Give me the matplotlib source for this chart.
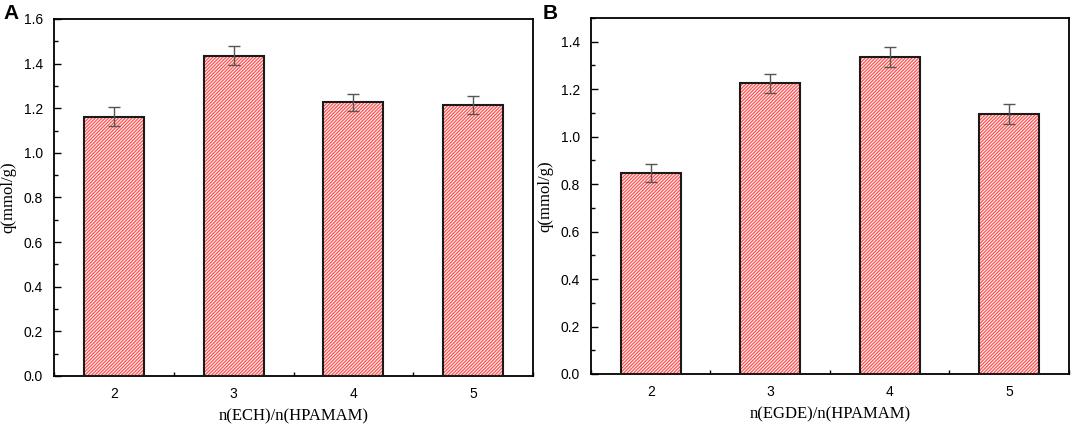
import matplotlib
matplotlib.use("Agg")
import matplotlib.pyplot as plt
from matplotlib.ticker import MultipleLocator, FormatStrFormatter

# dados
ratios = [2, 3, 4, 5]
q_ech = [1.163, 1.436, 1.226, 1.215]
err_ech = [0.042, 0.041, 0.040, 0.041]
q_egde = [0.845, 1.224, 1.334, 1.096]
err_egde = [0.038, 0.040, 0.042, 0.042]

plt.rcParams['hatch.linewidth'] = 1.0

fig = plt.figure(figsize=(10.72, 4.26), dpi=100)
axA = fig.add_axes([0.0504, 0.1174, 0.4468, 0.838])
axB = fig.add_axes([0.5513, 0.1221, 0.4459, 0.8357])


def draw_panel(ax, values, errors, ymax, xlabel):
    # hachura vermelha + contorno preto em duas camadas
    ax.bar(ratios, values, width=0.5, color='white', edgecolor='#ff5a5a',
           linewidth=0, hatch='//////////', zorder=2)
    ax.bar(ratios, values, width=0.5, fill=False, edgecolor='#1a1a1a',
           linewidth=1.5, zorder=3)
    ax.errorbar(ratios, values, yerr=errors, fmt='none', ecolor='#555555',
                elinewidth=1.0, capsize=4, capthick=1.0, zorder=4)
    ax.set_xlim(1.5, 5.5)
    ax.set_ylim(0, ymax)
    ax.set_xticks(ratios)
    ax.xaxis.set_minor_locator(MultipleLocator(0.5))
    ax.yaxis.set_major_locator(MultipleLocator(0.2))
    ax.yaxis.set_minor_locator(MultipleLocator(0.1))
    ax.yaxis.set_major_formatter(FormatStrFormatter('%.1f'))
    ax.tick_params(which='both', direction='in', top=False, right=False)
    ax.tick_params(which='major', length=5, width=1.0, labelsize=10, pad=8)
    ax.tick_params(which='minor', length=3, width=1.0)
    for lbl in ax.get_xticklabels() + ax.get_yticklabels():
        lbl.set_family('Liberation Sans')
    for s in ax.spines.values():
        s.set_linewidth(1.3)
    ax.set_xlabel(xlabel, family='Liberation Serif', fontsize=12, labelpad=5)
    ax.set_ylabel('q(mmol/g)', family='Liberation Serif', fontsize=12, labelpad=5)


draw_panel(axA, q_ech, err_ech, 1.6, 'n(ECH)/n(HPAMAM)')
draw_panel(axB, q_egde, err_egde, 1.5, 'n(EGDE)/n(HPAMAM)')

fig.text(0.003, 0.955, 'A', family='Liberation Sans', fontsize=15, fontweight='bold')
fig.text(0.506, 0.955, 'B', family='Liberation Sans', fontsize=15, fontweight='bold')

fig.savefig('out.png', dpi=100)
